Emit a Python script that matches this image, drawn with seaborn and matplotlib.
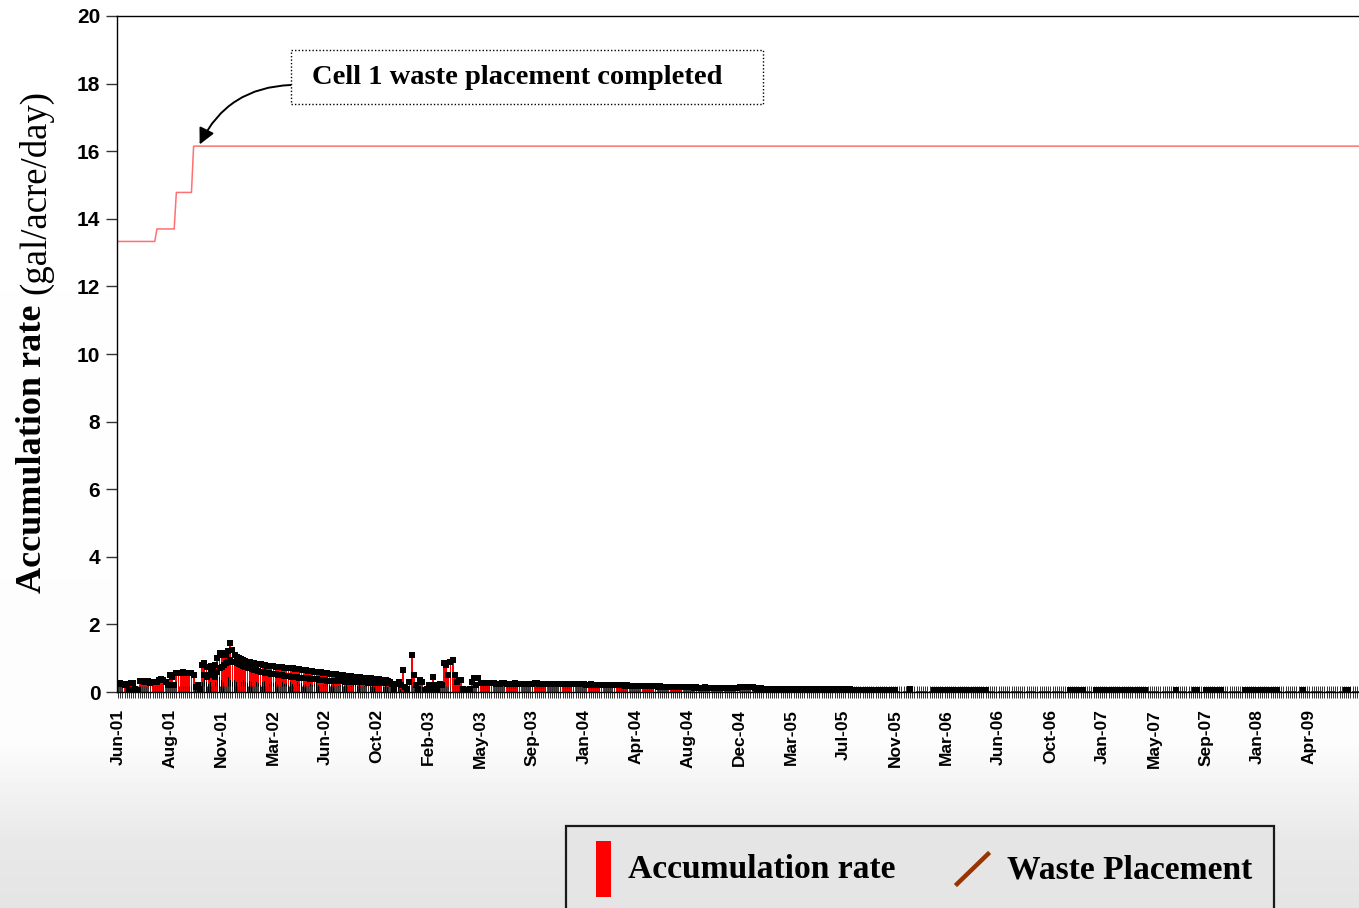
import numpy as np
import pandas as pd
import matplotlib
matplotlib.use("Agg")
import matplotlib.pyplot as plt
import seaborn as sns
from matplotlib.patches import Rectangle
from matplotlib.lines import Line2D

# ---------------- data ----------------
tick_labels = ["Jun-01", "Aug-01", "Nov-01", "Mar-02", "Jun-02", "Oct-02", "Feb-03", "May-03",
               "Sep-03", "Jan-04", "Apr-04", "Aug-04", "Dec-04", "Mar-05", "Jul-05", "Nov-05",
               "Mar-06", "Jun-06", "Oct-06", "Jan-07", "May-07", "Sep-07", "Jan-08", "Apr-09"]
per_label = 24  # readings between two labelled ticks

# accumulation rate (upper readings), one value per reading
accumulation_rate = [
    0.25, 0.28, 0.25, 0.2, 0.25, 0.05, 0.28, 0.28, 0.1, 0.05, 0.32, 0.32, 0.3, 0.32, 0.32, 0.28, 0.3, 0.3, 0.3, 0.35, 0.38, 0.36, 0.3, 0.2,
    0.5, 0.45, 0.2, 0.55, 0.56, 0.56, 0.58, 0.56, 0.56, 0.55, 0.55, 0.5, 0.15, 0.2, 0.1, 0.8, 0.85, 0.75, 0.75, 0.78, 0.7, 0.8, 1.0, 1.15,
    1.1, 1.15, 1.1, 1.2, 1.45, 1.25, 1.1, 1.05, 1.0, 0.98, 0.95, 0.92, 0.9, 0.88, 0.87, 0.85, 0.84, 0.83, 0.82, 0.8, 0.8, 0.78, 0.78, 0.77,
    0.76, 0.75, 0.74, 0.74, 0.73, 0.72, 0.72, 0.71, 0.7, 0.7, 0.69, 0.68, 0.67, 0.66, 0.65, 0.64, 0.63, 0.62, 0.61, 0.6, 0.6, 0.59, 0.58, 0.57,
    0.56, 0.55, 0.54, 0.53, 0.52, 0.52, 0.51, 0.5, 0.49, 0.48, 0.48, 0.47, 0.46, 0.45, 0.45, 0.44, 0.43, 0.42, 0.42, 0.41, 0.4, 0.4, 0.39, 0.38,
    0.38, 0.37, 0.36, 0.36, 0.35, 0.34, 0.3, 0.25, 0.1, 0.25, 0.3, 0.2, 0.65, 0.15, 0.1, 0.3, 1.1, 0.5, 0.2, 0.1, 0.35, 0.3, 0.05, 0.1,
    0.2, 0.1, 0.45, 0.2, 0.1, 0.25, 0.2, 0.85, 0.8, 0.5, 0.9, 0.95, 0.5, 0.3, 0.35, 0.35, 0.1, 0.05, 0.05, 0.1, 0.3, 0.4, 0.2, 0.4,
    0.27, 0.27, 0.26, 0.26, 0.26, 0.26, 0.26, 0.25, 0.25, 0.25, 0.26, 0.26, 0.25, 0.25, 0.25, 0.25, 0.26, 0.25, 0.25, 0.25, 0.25, 0.25, 0.24, 0.24,
    0.25, 0.26, 0.26, 0.25, 0.25, 0.25, 0.25, 0.24, 0.25, 0.25, 0.24, 0.24, 0.24, 0.25, 0.24, 0.24, 0.24, 0.23, 0.23, 0.24, 0.23, 0.23, 0.23, 0.23,
    0.23, 0.22, 0.22, 0.23, 0.22, 0.22, 0.22, 0.21, 0.22, 0.21, 0.21, 0.21, 0.2, 0.21, 0.2, 0.2, 0.2, 0.2, 0.2, 0.19, 0.2, 0.19, 0.19, 0.19,
    0.19, 0.18, 0.18, 0.18, 0.18, 0.17, 0.18, 0.17, 0.17, 0.17, 0.16, 0.17, 0.16, 0.16, 0.16, 0.16, 0.15, 0.16, 0.15, 0.15, 0.15, 0.15, 0.14, 0.15,
    0.14, 0.14, 0.14, 0.13, 0.14, 0.13, 0.13, 0.13, 0.14, 0.13, 0.12, 0.13, 0.12, 0.12, 0.13, 0.12, 0.12, 0.12, 0.13, 0.12, 0.12, 0.11, 0.12, 0.11,
    0.15, 0.16, 0.15, 0.16, 0.15, 0.16, 0.15, 0.12, 0.1, 0.1, 0.11, 0.1, 0.1, 0.1, 0.1, 0.09, 0.1, 0.1, 0.09, 0.1, 0.09, 0.1, 0.09, 0.09,
    0.1, 0.1, 0.09, 0.1, 0.09, 0.09, 0.1, 0.09, 0.09, 0.09, 0.09, 0.08, 0.09, 0.08, 0.09, 0.08, 0.08, 0.08, 0.08, 0.08, 0.08, 0.08, 0.07, 0.08,
    0.08, 0.08, 0.07, 0.08, 0.07, 0.07, 0.07, 0.07, 0.07, 0.07, 0.07, 0.07, 0.07, 0.06, 0.07, 0.07, 0.07, 0.06, 0.07, 0.07, 0.06, 0.07, 0.06, 0.07,
    0.06, 0.03, 0.03, 0.03, 0.03, 0.03, 0.03, 0.09, 0.03, 0.03, 0.03, 0.03, 0.03, 0.03, 0.03, 0.03, 0.03, 0.03, 0.07, 0.07, 0.06, 0.07, 0.07, 0.07,
    0.07, 0.07, 0.07, 0.07, 0.07, 0.07, 0.06, 0.07, 0.07, 0.07, 0.07, 0.07, 0.06, 0.07, 0.07, 0.07, 0.07, 0.07, 0.06, 0.03, 0.03, 0.03, 0.03, 0.03,
    0.03, 0.03, 0.03, 0.03, 0.03, 0.03, 0.03, 0.03, 0.03, 0.03, 0.03, 0.03, 0.03, 0.03, 0.03, 0.03, 0.03, 0.03, 0.03, 0.03, 0.03, 0.03, 0.03, 0.03,
    0.03, 0.03, 0.03, 0.03, 0.03, 0.03, 0.03, 0.03, 0.03, 0.06, 0.06, 0.06, 0.06, 0.06, 0.06, 0.06, 0.03, 0.03, 0.03, 0.03, 0.03, 0.07, 0.07, 0.07,
    0.07, 0.07, 0.07, 0.07, 0.07, 0.07, 0.07, 0.07, 0.07, 0.07, 0.07, 0.07, 0.07, 0.07, 0.07, 0.07, 0.07, 0.07, 0.07, 0.07, 0.07, 0.03, 0.03, 0.03,
    0.03, 0.03, 0.03, 0.03, 0.03, 0.03, 0.03, 0.03, 0.03, 0.03, 0.06, 0.03, 0.03, 0.03, 0.03, 0.03, 0.03, 0.03, 0.03, 0.06, 0.06, 0.03, 0.03, 0.03,
    0.06, 0.06, 0.06, 0.06, 0.06, 0.06, 0.06, 0.06, 0.03, 0.03, 0.03, 0.03, 0.03, 0.03, 0.03, 0.03, 0.03, 0.03, 0.06, 0.06, 0.06, 0.06, 0.06, 0.06,
    0.07, 0.07, 0.07, 0.07, 0.07, 0.07, 0.07, 0.07, 0.07, 0.07, 0.03, 0.03, 0.03, 0.03, 0.03, 0.03, 0.03, 0.03, 0.03, 0.03, 0.03, 0.06, 0.03, 0.03,
    0.03, 0.03, 0.03, 0.03, 0.03, 0.03, 0.03, 0.03, 0.03, 0.03, 0.03, 0.03, 0.03, 0.03, 0.03, 0.03, 0.03, 0.06, 0.06, 0.03, 0.03, 0.03, 0.03, 0.03,
]

# second (middle) set of readings during the early period
middle_start = 40
middle_rate = [
    0.5, 0.45, 0.5, 0.55, 0.5, 0.45, 0.6, 0.7,
    0.75, 0.8, 0.85, 0.9, 0.95, 0.9, 0.88, 0.85, 0.82, 0.8, 0.78, 0.75, 0.72, 0.7, 0.68, 0.66, 0.64, 0.62, 0.6, 0.58, 0.57, 0.56, 0.55, 0.54,
    0.53, 0.52, 0.51, 0.5, 0.49, 0.48, 0.47, 0.46, 0.45, 0.45, 0.44, 0.43, 0.42, 0.42, 0.41, 0.4, 0.4, 0.39, 0.38, 0.38, 0.37, 0.36, 0.36, 0.35,
    0.35, 0.34, 0.34, 0.33, 0.33, 0.33, 0.32, 0.32, 0.32, 0.31, 0.31, 0.31, 0.3, 0.3, 0.3, 0.3, 0.29, 0.29, 0.29, 0.29, 0.28, 0.28, 0.28, 0.28,
    0.27, 0.27, 0.27, 0.27, 0.26, 0.26, 0.26, 0.25,
]

# lowest set of readings (drawn black)
low_start = 36
low_rate = [
    0.1, 0.15, 0.1, 0.3, 0.35, 0.3, 0.25, 0.3, 0.35, 0.3, 0.4, 0.45, 0.35, 0.3, 0.4, 0.45, 0.35, 0.3, 0.35, 0.3, 0.25, 0.3, 0.35, 0.3,
    0.28, 0.32, 0.3, 0.25, 0.3, 0.28, 0.22, 0.3, 0.32, 0.28, 0.25, 0.3, 0.28, 0.3, 0.25, 0.28, 0.3, 0.25, 0.28, 0.22, 0.3, 0.25, 0.28, 0.3,
    0.25, 0.28, 0.22, 0.25, 0.28, 0.25, 0.2, 0.25, 0.28, 0.22, 0.25, 0.2, 0.22, 0.25, 0.2, 0.22, 0.25, 0.2, 0.18, 0.22, 0.2, 0.18, 0.2, 0.22,
    0.18, 0.2, 0.22, 0.18, 0.2, 0.15, 0.18, 0.2, 0.15, 0.18, 0.2, 0.15, 0.18, 0.15, 0.12, 0.15, 0.18, 0.15, 0.12, 0.1, 0.08, 0.1, 0.12, 0.1,
]

# waste placement line (reading index, value)
waste_idx = [0, 17, 18, 26, 27, 34, 35, 575]
waste_val = [13.33, 13.33, 13.7, 13.7, 14.78, 14.78, 16.15, 16.15]

# ---------------- build frames ----------------
n = len(accumulation_rate)
idx = np.arange(n)
df_top = pd.DataFrame({"reading": idx, "rate": accumulation_rate})
df_mid = pd.DataFrame({"reading": np.arange(middle_start, middle_start + len(middle_rate)), "rate": middle_rate})
df_low = pd.DataFrame({"reading": np.arange(low_start, low_start + len(low_rate)), "rate": low_rate})
df_waste = pd.DataFrame({"reading": waste_idx, "value": waste_val})

# ---------------- figure ----------------
W, H = 1359, 908
fig = plt.figure(figsize=(W / 100, H / 100), dpi=100)

# background gradient (white -> light grey at the bottom)
bg = fig.add_axes([0, 0, 1, 1], zorder=-10)
rows = np.arange(H)
shade = np.interp(rows, [0, 740, 840, H], [1.0, 0.99, 0.91, 0.895])
bg.imshow(np.repeat(shade[:, None], 4, axis=1), cmap="gray", vmin=0, vmax=1,
          aspect="auto", extent=[0, 1, 0, 1], origin="upper")
bg.set_axis_off()

left, right, top, bottom = 117, W, 16, 692
ax = fig.add_axes([left / W, 1 - bottom / H, (right - left) / W, (bottom - top) / H])
ax.set_facecolor("white")

sns.barplot(data=df_top, x="reading", y="rate", native_scale=True, color="#ff0000",
            saturation=1, width=0.85, linewidth=0, errorbar=None, ax=ax)
caps_top = df_top[df_top["rate"] > 0.045]
sns.scatterplot(data=caps_top, x="reading", y="rate", marker="s", s=22, color="black",
                linewidth=0, ax=ax, zorder=3)
sns.barplot(data=df_mid, x="reading", y="rate", native_scale=True, color="#ff0000",
            saturation=1, width=0.85, linewidth=0, errorbar=None, ax=ax)
sns.scatterplot(data=df_mid, x="reading", y="rate", marker="s", s=22, color="black",
                linewidth=0, ax=ax, zorder=3)
sns.barplot(data=df_low, x="reading", y="rate", native_scale=True, color="black",
            saturation=1, width=0.4, linewidth=0, errorbar=None, ax=ax)

sns.lineplot(data=df_waste, x="reading", y="value", sort=False, estimator=None,
             color="#ff7070", linewidth=1.1, ax=ax)

ax.set_xlim(-0.5, (right - 118) / 2.1667)
ax.set_ylim(0, 20)

# ticks
ax.set_yticks(np.arange(0, 21, 2))
ax.set_yticklabels([str(v) for v in range(0, 21, 2)], fontsize=15, fontweight="bold",
                   family="Liberation Sans")
ax.tick_params(axis="y", direction="out", length=8, width=1, pad=4, color="#333333")
ax.set_xticks(idx)
ax.set_xticklabels([tick_labels[i // per_label] if i % per_label == 0 and i // per_label < len(tick_labels) else ""
                    for i in idx], rotation=90, fontsize=12.5, fontweight="bold",
                   family="Liberation Sans")
ax.tick_params(axis="x", direction="inout", length=9, width=0.7, pad=8, color="#333333")
ax.set_xlabel("")
ax.set_ylabel("")
for s in ["top", "left", "bottom"]:
    ax.spines[s].set_color("black")
    ax.spines[s].set_linewidth(1.0)
ax.spines["right"].set_visible(False)
ax.grid(False)

# y label: bold part + regular part
fig.canvas.draw()
renderer = fig.canvas.get_renderer()
t1 = fig.text(33 / W, 1 - 593 / H, "Accumulation rate", rotation=90, ha="center", va="bottom",
              fontsize=26, fontweight="bold", family="Liberation Serif")
bb = t1.get_window_extent(renderer)
fig.text(36 / W, (bb.y1 + 11) / H, "(gal/acre/day)", rotation=90, ha="center", va="bottom",
         fontsize=26.5, family="Liberation Serif")

# annotation box + arrow
fig.add_artist(Rectangle((291, H - 104), 472, 54, transform=None, fill=True, fc="white",
                         ec="black", lw=1.0, ls=(0, (1, 1.5)), zorder=4))
fig.text(517 / W, 1 - 78 / H, "Cell 1 waste placement completed", ha="center", va="center",
         fontsize=20.5, fontweight="bold", family="Liberation Serif", zorder=5)
ax.annotate("", xy=(37.8, 16.2), xycoords="data", xytext=(291, H - 85), textcoords="figure pixels",
            arrowprops=dict(arrowstyle="-|>", color="black", lw=1.4, mutation_scale=24,
                            connectionstyle="arc3,rad=0.3", shrinkA=0, shrinkB=0),
            annotation_clip=False)

# legend box (bottom)
fig.add_artist(Rectangle((566, -5), 708, H - 826 + 5, transform=None, fc="#e5e5e5",
                         ec="#1a1a1a", lw=1.6, zorder=4))
fig.add_artist(Rectangle((596, H - 897), 15, 56, transform=None, fc="#ff0000", ec="none", zorder=5))
fig.text(628 / W, 1 - 870 / H, "Accumulation rate", ha="left", va="center", fontsize=24.2,
         fontweight="bold", family="Liberation Serif", zorder=5)
fig.add_artist(Line2D([957, 988], [H - 884, H - 854], transform=None, color="#993300", lw=3.2,
                      zorder=5))
fig.text(1007 / W, 1 - 870 / H, "Waste Placement", ha="left", va="center", fontsize=24.2,
         fontweight="bold", family="Liberation Serif", zorder=5)

fig.savefig("out.png", dpi=100)
